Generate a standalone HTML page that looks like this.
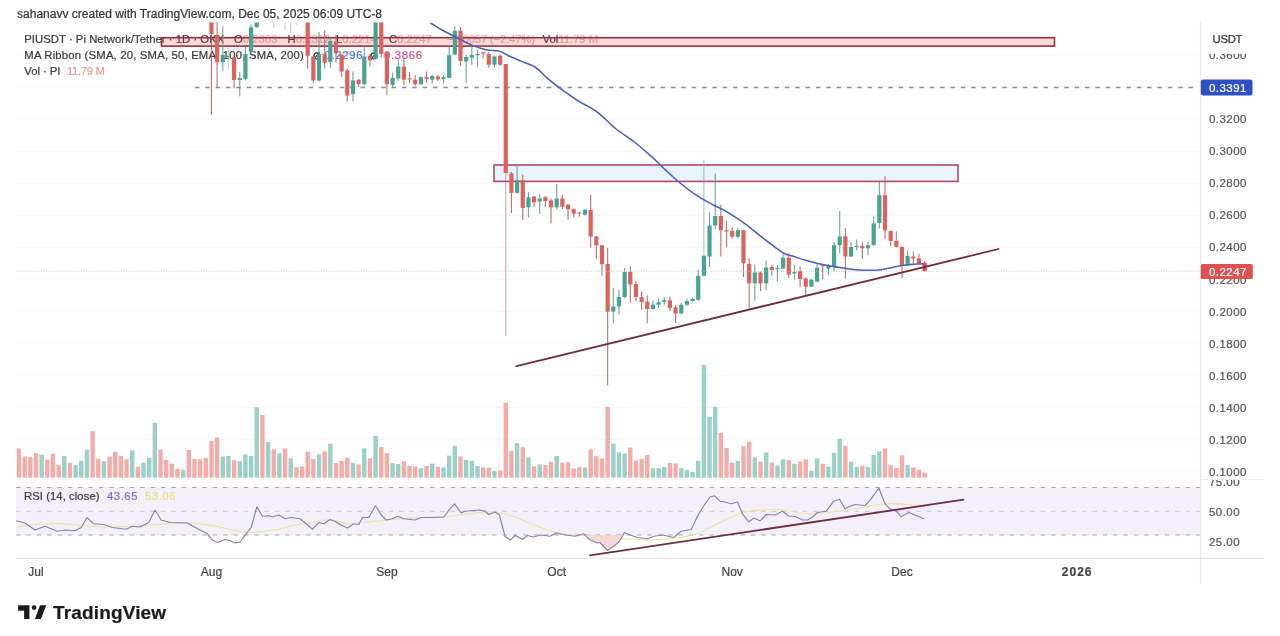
<!DOCTYPE html>
<html lang="en"><head><meta charset="utf-8"><title>PIUSDT chart</title>
<style>
html,body{margin:0;padding:0;background:#fff}
body{width:1280px;height:636px;overflow:hidden;position:relative}
svg{position:absolute;left:0;top:0;display:block}
text{font-family:"Liberation Sans",sans-serif;white-space:pre;stroke:currentColor;stroke-width:0.22px;paint-order:stroke}
svg{filter:blur(0.6px)}
</style></head><body>
<svg width="1280" height="636" viewBox="0 0 1280 636">
<defs><clipPath id="cp"><rect x="0" y="22.5" width="1200" height="460"/></clipPath>
<clipPath id="ax"><rect x="1200" y="53.8" width="80" height="427"/></clipPath>
<clipPath id="rx"><rect x="1200" y="479.9" width="80" height="78"/></clipPath></defs>
<rect x="0" y="0" width="1280" height="636" fill="#fff"/>

<g stroke="#f4f4f6" stroke-width="1">
<line x1="16" x2="1200" y1="471.8" y2="471.8"/>
<line x1="16" x2="1200" y1="439.7" y2="439.7"/>
<line x1="16" x2="1200" y1="407.6" y2="407.6"/>
<line x1="16" x2="1200" y1="375.6" y2="375.6"/>
<line x1="16" x2="1200" y1="343.5" y2="343.5"/>
<line x1="16" x2="1200" y1="311.4" y2="311.4"/>
<line x1="16" x2="1200" y1="279.3" y2="279.3"/>
<line x1="16" x2="1200" y1="247.2" y2="247.2"/>
<line x1="16" x2="1200" y1="215.2" y2="215.2"/>
<line x1="16" x2="1200" y1="183.1" y2="183.1"/>
<line x1="16" x2="1200" y1="151.0" y2="151.0"/>
<line x1="16" x2="1200" y1="118.9" y2="118.9"/>
<line x1="16" x2="1200" y1="86.8" y2="86.8"/>
<line x1="16" x2="1200" y1="54.8" y2="54.8"/>
</g>
<rect x="16" y="487.5" width="1184" height="47.5" fill="#f3f0fb"/>
<g font-size="11.3" fill="#3a3a3a" color="#3a3a3a">
<text x="17" y="17.5" font-size="12" textLength="365" fill="#333" color="#333">sahanavv created with TradingView.com, Dec 05, 2025 06:09 UTC-8</text>
<text x="24.3" y="43" textLength="200">PIUSDT · Pi Network/Tether · 1D · OKX</text>
<text x="234" y="43">O<tspan fill="#e0706c" color="#e0706c" opacity="0.6">0.2303</tspan></text>
<text x="287.5" y="43">H<tspan fill="#e0706c" color="#e0706c" opacity="0.6">0.2312</tspan></text>
<text x="336" y="43">L<tspan fill="#e0706c" color="#e0706c" opacity="0.6">0.2214</tspan></text>
<text x="389" y="43">C<tspan fill="#e0706c" color="#e0706c" opacity="0.6">0.2247</tspan></text>
<text x="447" y="43" fill="#e0706c" color="#e0706c" opacity="0.6" textLength="88">−0.0057 (−2.47%)</text>
<text x="542.5" y="43">Vol<tspan fill="#e0706c" color="#e0706c" opacity="0.6">11.79 M</tspan></text>
<text x="24.3" y="59.4" textLength="279.5">MA Ribbon (SMA, 20, SMA, 50, EMA, 100, SMA, 200)</text>
<text x="312.5" y="59.2" font-size="8.5" font-weight="bold">∅</text><text x="324.5" y="59.4" fill="#4a74dc" color="#4a74dc" textLength="38">0.2296</text>
<text x="369.5" y="59.2" font-size="8.5" font-weight="bold">∅</text><text x="384" y="59.4" fill="#d24f84" color="#d24f84" textLength="38">0.3866</text>
<text x="24.3" y="75" textLength="36">Vol · PI</text><text x="67" y="75" fill="#e89b9b" color="#e89b9b" textLength="38">11.79 M</text>
</g>
<g clip-path="url(#cp)">
<rect x="16.82" y="448.4" width="4.4" height="29.3" fill="#f3aca8"/>
<rect x="22.48" y="456.5" width="4.4" height="21.2" fill="#f3aca8"/>
<rect x="28.14" y="457.1" width="4.4" height="20.6" fill="#f3aca8"/>
<rect x="33.80" y="453.3" width="4.4" height="24.4" fill="#f3aca8"/>
<rect x="39.46" y="454.7" width="4.4" height="23.0" fill="#9ccfc7"/>
<rect x="45.12" y="459.7" width="4.4" height="18.0" fill="#f3aca8"/>
<rect x="50.78" y="453.7" width="4.4" height="24.0" fill="#f3aca8"/>
<rect x="56.44" y="464.9" width="4.4" height="12.8" fill="#f3aca8"/>
<rect x="62.10" y="455.9" width="4.4" height="21.8" fill="#9ccfc7"/>
<rect x="67.76" y="462.7" width="4.4" height="15.0" fill="#f3aca8"/>
<rect x="73.42" y="465.3" width="4.4" height="12.4" fill="#9ccfc7"/>
<rect x="79.08" y="460.8" width="4.4" height="16.9" fill="#9ccfc7"/>
<rect x="84.74" y="449.6" width="4.4" height="28.1" fill="#9ccfc7"/>
<rect x="90.40" y="431.2" width="4.4" height="46.5" fill="#f3aca8"/>
<rect x="96.06" y="458.9" width="4.4" height="18.8" fill="#f3aca8"/>
<rect x="101.72" y="461.2" width="4.4" height="16.5" fill="#9ccfc7"/>
<rect x="107.38" y="456.5" width="4.4" height="21.2" fill="#f3aca8"/>
<rect x="113.04" y="451.8" width="4.4" height="25.9" fill="#f3aca8"/>
<rect x="118.70" y="455.9" width="4.4" height="21.8" fill="#f3aca8"/>
<rect x="124.36" y="459.3" width="4.4" height="18.4" fill="#f3aca8"/>
<rect x="130.02" y="450.5" width="4.4" height="27.2" fill="#9ccfc7"/>
<rect x="135.68" y="466.8" width="4.4" height="10.9" fill="#f3aca8"/>
<rect x="141.34" y="462.7" width="4.4" height="15.0" fill="#9ccfc7"/>
<rect x="147.00" y="457.8" width="4.4" height="19.9" fill="#9ccfc7"/>
<rect x="152.66" y="422.7" width="4.4" height="55.0" fill="#9ccfc7"/>
<rect x="158.32" y="449.6" width="4.4" height="28.1" fill="#f3aca8"/>
<rect x="163.98" y="459.9" width="4.4" height="17.8" fill="#f3aca8"/>
<rect x="169.64" y="463.7" width="4.4" height="14.0" fill="#f3aca8"/>
<rect x="175.30" y="468.7" width="4.4" height="9.0" fill="#f3aca8"/>
<rect x="180.96" y="469.7" width="4.4" height="8.0" fill="#9ccfc7"/>
<rect x="186.62" y="449.9" width="4.4" height="27.8" fill="#f3aca8"/>
<rect x="192.28" y="458.9" width="4.4" height="18.8" fill="#f3aca8"/>
<rect x="197.94" y="459.3" width="4.4" height="18.4" fill="#f3aca8"/>
<rect x="203.60" y="457.8" width="4.4" height="19.9" fill="#f3aca8"/>
<rect x="209.26" y="440.9" width="4.4" height="36.8" fill="#f3aca8"/>
<rect x="214.92" y="437.4" width="4.4" height="40.3" fill="#f3aca8"/>
<rect x="220.58" y="456.5" width="4.4" height="21.2" fill="#9ccfc7"/>
<rect x="226.24" y="455.9" width="4.4" height="21.8" fill="#9ccfc7"/>
<rect x="231.90" y="460.3" width="4.4" height="17.4" fill="#f3aca8"/>
<rect x="237.56" y="461.2" width="4.4" height="16.5" fill="#9ccfc7"/>
<rect x="243.22" y="454.3" width="4.4" height="23.4" fill="#9ccfc7"/>
<rect x="248.88" y="455.9" width="4.4" height="21.8" fill="#9ccfc7"/>
<rect x="254.54" y="407.2" width="4.4" height="70.5" fill="#9ccfc7"/>
<rect x="260.20" y="414.9" width="4.4" height="62.8" fill="#f3aca8"/>
<rect x="265.86" y="442.1" width="4.4" height="35.6" fill="#9ccfc7"/>
<rect x="271.52" y="449.4" width="4.4" height="28.3" fill="#f3aca8"/>
<rect x="277.18" y="453.3" width="4.4" height="24.4" fill="#9ccfc7"/>
<rect x="282.84" y="448.4" width="4.4" height="29.3" fill="#f3aca8"/>
<rect x="288.50" y="458.4" width="4.4" height="19.3" fill="#9ccfc7"/>
<rect x="294.16" y="467.4" width="4.4" height="10.3" fill="#f3aca8"/>
<rect x="299.82" y="466.4" width="4.4" height="11.3" fill="#f3aca8"/>
<rect x="305.48" y="451.8" width="4.4" height="25.9" fill="#f3aca8"/>
<rect x="311.14" y="458.9" width="4.4" height="18.8" fill="#f3aca8"/>
<rect x="316.80" y="454.3" width="4.4" height="23.4" fill="#9ccfc7"/>
<rect x="322.46" y="451.3" width="4.4" height="26.4" fill="#f3aca8"/>
<rect x="328.12" y="443.8" width="4.4" height="33.9" fill="#9ccfc7"/>
<rect x="333.78" y="463.1" width="4.4" height="14.6" fill="#f3aca8"/>
<rect x="339.44" y="460.8" width="4.4" height="16.9" fill="#f3aca8"/>
<rect x="345.10" y="457.8" width="4.4" height="19.9" fill="#f3aca8"/>
<rect x="350.76" y="462.7" width="4.4" height="15.0" fill="#9ccfc7"/>
<rect x="356.42" y="464.6" width="4.4" height="13.1" fill="#f3aca8"/>
<rect x="362.08" y="448.4" width="4.4" height="29.3" fill="#9ccfc7"/>
<rect x="367.74" y="458.4" width="4.4" height="19.3" fill="#f3aca8"/>
<rect x="373.40" y="435.9" width="4.4" height="41.8" fill="#9ccfc7"/>
<rect x="379.06" y="447.1" width="4.4" height="30.6" fill="#f3aca8"/>
<rect x="384.72" y="453.1" width="4.4" height="24.6" fill="#f3aca8"/>
<rect x="390.38" y="463.1" width="4.4" height="14.6" fill="#9ccfc7"/>
<rect x="396.04" y="464.0" width="4.4" height="13.7" fill="#9ccfc7"/>
<rect x="401.70" y="461.2" width="4.4" height="16.5" fill="#f3aca8"/>
<rect x="407.36" y="465.9" width="4.4" height="11.8" fill="#f3aca8"/>
<rect x="413.02" y="466.4" width="4.4" height="11.3" fill="#f3aca8"/>
<rect x="418.68" y="468.3" width="4.4" height="9.4" fill="#9ccfc7"/>
<rect x="424.34" y="465.9" width="4.4" height="11.8" fill="#f3aca8"/>
<rect x="430.00" y="463.7" width="4.4" height="14.0" fill="#9ccfc7"/>
<rect x="435.66" y="466.8" width="4.4" height="10.9" fill="#f3aca8"/>
<rect x="441.32" y="467.4" width="4.4" height="10.3" fill="#9ccfc7"/>
<rect x="446.98" y="455.6" width="4.4" height="22.1" fill="#9ccfc7"/>
<rect x="452.64" y="445.8" width="4.4" height="31.9" fill="#9ccfc7"/>
<rect x="458.30" y="456.5" width="4.4" height="21.2" fill="#f3aca8"/>
<rect x="463.96" y="459.9" width="4.4" height="17.8" fill="#9ccfc7"/>
<rect x="469.62" y="460.7" width="4.4" height="17.0" fill="#9ccfc7"/>
<rect x="475.28" y="466.0" width="4.4" height="11.7" fill="#9ccfc7"/>
<rect x="480.94" y="467.4" width="4.4" height="10.3" fill="#f3aca8"/>
<rect x="486.60" y="467.8" width="4.4" height="9.9" fill="#f3aca8"/>
<rect x="492.26" y="471.1" width="4.4" height="6.6" fill="#9ccfc7"/>
<rect x="497.92" y="470.4" width="4.4" height="7.3" fill="#f3aca8"/>
<rect x="503.58" y="402.8" width="4.4" height="74.9" fill="#f3aca8"/>
<rect x="509.24" y="450.8" width="4.4" height="26.9" fill="#f3aca8"/>
<rect x="514.90" y="443.1" width="4.4" height="34.6" fill="#9ccfc7"/>
<rect x="520.56" y="446.9" width="4.4" height="30.8" fill="#f3aca8"/>
<rect x="526.22" y="457.4" width="4.4" height="20.3" fill="#9ccfc7"/>
<rect x="531.88" y="466.3" width="4.4" height="11.4" fill="#f3aca8"/>
<rect x="537.54" y="464.5" width="4.4" height="13.2" fill="#9ccfc7"/>
<rect x="543.20" y="464.9" width="4.4" height="12.8" fill="#f3aca8"/>
<rect x="548.86" y="461.8" width="4.4" height="15.9" fill="#f3aca8"/>
<rect x="554.52" y="456.1" width="4.4" height="21.6" fill="#9ccfc7"/>
<rect x="560.18" y="462.7" width="4.4" height="15.0" fill="#f3aca8"/>
<rect x="565.84" y="462.3" width="4.4" height="15.4" fill="#f3aca8"/>
<rect x="571.50" y="468.5" width="4.4" height="9.2" fill="#f3aca8"/>
<rect x="577.16" y="467.1" width="4.4" height="10.6" fill="#f3aca8"/>
<rect x="582.82" y="467.4" width="4.4" height="10.3" fill="#9ccfc7"/>
<rect x="588.48" y="449.5" width="4.4" height="28.2" fill="#f3aca8"/>
<rect x="594.14" y="456.1" width="4.4" height="21.6" fill="#f3aca8"/>
<rect x="599.80" y="458.5" width="4.4" height="19.2" fill="#f3aca8"/>
<rect x="605.46" y="406.8" width="4.4" height="70.9" fill="#f3aca8"/>
<rect x="611.12" y="443.6" width="4.4" height="34.1" fill="#9ccfc7"/>
<rect x="616.78" y="452.4" width="4.4" height="25.3" fill="#9ccfc7"/>
<rect x="622.44" y="453.5" width="4.4" height="24.2" fill="#9ccfc7"/>
<rect x="628.10" y="447.5" width="4.4" height="30.2" fill="#f3aca8"/>
<rect x="633.76" y="460.7" width="4.4" height="17.0" fill="#f3aca8"/>
<rect x="639.42" y="459.0" width="4.4" height="18.7" fill="#f3aca8"/>
<rect x="645.08" y="455.0" width="4.4" height="22.7" fill="#f3aca8"/>
<rect x="650.74" y="468.2" width="4.4" height="9.5" fill="#9ccfc7"/>
<rect x="656.40" y="468.2" width="4.4" height="9.5" fill="#9ccfc7"/>
<rect x="662.06" y="467.1" width="4.4" height="10.6" fill="#9ccfc7"/>
<rect x="667.72" y="462.9" width="4.4" height="14.8" fill="#f3aca8"/>
<rect x="673.38" y="463.4" width="4.4" height="14.3" fill="#f3aca8"/>
<rect x="679.04" y="468.2" width="4.4" height="9.5" fill="#9ccfc7"/>
<rect x="684.70" y="470.0" width="4.4" height="7.7" fill="#9ccfc7"/>
<rect x="690.36" y="472.0" width="4.4" height="5.7" fill="#9ccfc7"/>
<rect x="696.02" y="460.9" width="4.4" height="16.8" fill="#9ccfc7"/>
<rect x="701.68" y="365.0" width="4.4" height="112.7" fill="#9ccfc7"/>
<rect x="707.34" y="416.7" width="4.4" height="61.0" fill="#9ccfc7"/>
<rect x="713.00" y="406.6" width="4.4" height="71.1" fill="#9ccfc7"/>
<rect x="718.66" y="433.0" width="4.4" height="44.7" fill="#f3aca8"/>
<rect x="724.32" y="448.0" width="4.4" height="29.7" fill="#f3aca8"/>
<rect x="729.98" y="462.7" width="4.4" height="15.0" fill="#f3aca8"/>
<rect x="735.64" y="461.2" width="4.4" height="16.5" fill="#9ccfc7"/>
<rect x="741.30" y="446.2" width="4.4" height="31.5" fill="#f3aca8"/>
<rect x="746.96" y="441.8" width="4.4" height="35.9" fill="#f3aca8"/>
<rect x="752.62" y="457.4" width="4.4" height="20.3" fill="#9ccfc7"/>
<rect x="758.28" y="461.6" width="4.4" height="16.1" fill="#f3aca8"/>
<rect x="763.94" y="452.4" width="4.4" height="25.3" fill="#9ccfc7"/>
<rect x="769.60" y="462.3" width="4.4" height="15.4" fill="#f3aca8"/>
<rect x="775.26" y="465.6" width="4.4" height="12.1" fill="#9ccfc7"/>
<rect x="780.92" y="459.4" width="4.4" height="18.3" fill="#9ccfc7"/>
<rect x="786.58" y="460.1" width="4.4" height="17.6" fill="#f3aca8"/>
<rect x="792.24" y="463.8" width="4.4" height="13.9" fill="#9ccfc7"/>
<rect x="797.90" y="461.6" width="4.4" height="16.1" fill="#f3aca8"/>
<rect x="803.56" y="459.4" width="4.4" height="18.3" fill="#f3aca8"/>
<rect x="809.22" y="470.7" width="4.4" height="7.0" fill="#9ccfc7"/>
<rect x="814.88" y="458.5" width="4.4" height="19.2" fill="#9ccfc7"/>
<rect x="820.54" y="463.8" width="4.4" height="13.9" fill="#f3aca8"/>
<rect x="826.20" y="466.7" width="4.4" height="11.0" fill="#9ccfc7"/>
<rect x="831.86" y="452.8" width="4.4" height="24.9" fill="#9ccfc7"/>
<rect x="837.52" y="438.7" width="4.4" height="39.0" fill="#9ccfc7"/>
<rect x="843.18" y="445.8" width="4.4" height="31.9" fill="#f3aca8"/>
<rect x="848.84" y="461.6" width="4.4" height="16.1" fill="#9ccfc7"/>
<rect x="854.50" y="467.1" width="4.4" height="10.6" fill="#9ccfc7"/>
<rect x="860.16" y="465.6" width="4.4" height="12.1" fill="#f3aca8"/>
<rect x="865.82" y="467.1" width="4.4" height="10.6" fill="#9ccfc7"/>
<rect x="871.48" y="455.0" width="4.4" height="22.7" fill="#9ccfc7"/>
<rect x="877.14" y="451.3" width="4.4" height="26.4" fill="#9ccfc7"/>
<rect x="882.80" y="448.4" width="4.4" height="29.3" fill="#f3aca8"/>
<rect x="888.46" y="465.2" width="4.4" height="12.5" fill="#f3aca8"/>
<rect x="894.12" y="467.8" width="4.4" height="9.9" fill="#f3aca8"/>
<rect x="899.78" y="455.2" width="4.4" height="22.5" fill="#f3aca8"/>
<rect x="905.44" y="465.2" width="4.4" height="12.5" fill="#9ccfc7"/>
<rect x="911.10" y="467.4" width="4.4" height="10.3" fill="#f3aca8"/>
<rect x="916.76" y="469.6" width="4.4" height="8.1" fill="#f3aca8"/>
<rect x="922.42" y="472.6" width="4.4" height="5.1" fill="#f3aca8"/>
<line x1="194.9" x2="1197" y1="87.5" y2="87.5" stroke="#909090" stroke-width="1.5" stroke-dasharray="4.5 5.85"/>
<rect x="161.5" y="37.7" width="893" height="8.4" fill="#e23c4b" fill-opacity="0.19" stroke="#98303a" stroke-width="1.6"/>
<rect x="494" y="165" width="464" height="16.4" fill="#5ab4f0" fill-opacity="0.145" stroke="#b5466c" stroke-width="1.6"/>
<line x1="211.46" x2="211.46" y1="22" y2="115" stroke="#b8605c" stroke-width="1.1" stroke-opacity="0.9"/>
<rect x="209.36" y="22" width="4.2" height="12.0" fill="#dc625d"/>
<line x1="217.12" x2="217.12" y1="22" y2="87.7" stroke="#b8605c" stroke-width="1.1" stroke-opacity="0.9"/>
<rect x="215.02" y="34.8" width="4.2" height="27.4" fill="#dc625d"/>
<line x1="222.78" x2="222.78" y1="26.3" y2="70.6" stroke="#5a9c90" stroke-width="1.1" stroke-opacity="0.9"/>
<rect x="220.68" y="55" width="4.2" height="7.2" fill="#48a394"/>
<line x1="228.44" x2="228.44" y1="46" y2="68.8" stroke="#5a9c90" stroke-width="1.1" stroke-opacity="0.4"/>
<rect x="226.34" y="56" width="4.2" height="1.2" fill="#48a394"/>
<line x1="234.10" x2="234.10" y1="55" y2="88.3" stroke="#b8605c" stroke-width="1.1" stroke-opacity="0.9"/>
<rect x="232.00" y="57" width="4.2" height="23.0" fill="#dc625d"/>
<line x1="239.76" x2="239.76" y1="72" y2="96.5" stroke="#5a9c90" stroke-width="1.1" stroke-opacity="0.9"/>
<rect x="237.66" y="78" width="4.2" height="2.0" fill="#48a394"/>
<line x1="245.42" x2="245.42" y1="47" y2="80.5" stroke="#5a9c90" stroke-width="1.1" stroke-opacity="0.9"/>
<rect x="243.32" y="54" width="4.2" height="25.0" fill="#48a394"/>
<line x1="251.08" x2="251.08" y1="24.4" y2="53" stroke="#5a9c90" stroke-width="1.1" stroke-opacity="0.9"/>
<rect x="248.98" y="27.3" width="4.2" height="24.5" fill="#48a394"/>
<line x1="256.74" x2="256.74" y1="20" y2="28" stroke="#5a9c90" stroke-width="1.1" stroke-opacity="0.9"/>
<rect x="254.64" y="20" width="4.2" height="7.0" fill="#48a394"/>
<line x1="273.72" x2="273.72" y1="20" y2="28" stroke="#b8605c" stroke-width="1.1" stroke-opacity="0.4"/>
<rect x="271.62" y="20" width="4.2" height="1.0" fill="#dc625d"/>
<line x1="285.04" x2="285.04" y1="20" y2="30" stroke="#b8605c" stroke-width="1.1" stroke-opacity="0.35"/>
<rect x="282.94" y="20" width="4.2" height="1.0" fill="#dc625d"/>
<line x1="290.70" x2="290.70" y1="20" y2="33" stroke="#5a9c90" stroke-width="1.1" stroke-opacity="0.5"/>
<rect x="288.60" y="20" width="4.2" height="1.0" fill="#48a394"/>
<line x1="296.36" x2="296.36" y1="20" y2="25" stroke="#b8605c" stroke-width="1.1" stroke-opacity="0.35"/>
<rect x="294.26" y="20" width="4.2" height="1.0" fill="#dc625d"/>
<line x1="307.68" x2="307.68" y1="20" y2="69" stroke="#b8605c" stroke-width="1.1" stroke-opacity="0.9"/>
<rect x="305.58" y="20" width="4.2" height="35.8" fill="#dc625d"/>
<line x1="313.34" x2="313.34" y1="56" y2="83" stroke="#b8605c" stroke-width="1.1" stroke-opacity="0.9"/>
<rect x="311.24" y="56.5" width="4.2" height="23.9" fill="#dc625d"/>
<line x1="319.00" x2="319.00" y1="32" y2="81.6" stroke="#5a9c90" stroke-width="1.1" stroke-opacity="0.9"/>
<rect x="316.90" y="54" width="4.2" height="26.4" fill="#48a394"/>
<line x1="324.66" x2="324.66" y1="30.7" y2="68.4" stroke="#b8605c" stroke-width="1.1" stroke-opacity="0.9"/>
<rect x="322.56" y="54" width="4.2" height="8.8" fill="#dc625d"/>
<line x1="330.32" x2="330.32" y1="37.6" y2="67.8" stroke="#5a9c90" stroke-width="1.1" stroke-opacity="0.9"/>
<rect x="328.22" y="40.8" width="4.2" height="21.2" fill="#48a394"/>
<line x1="335.98" x2="335.98" y1="35" y2="62.8" stroke="#b8605c" stroke-width="1.1" stroke-opacity="0.9"/>
<rect x="333.88" y="41.4" width="4.2" height="11.9" fill="#dc625d"/>
<line x1="341.64" x2="341.64" y1="54" y2="77" stroke="#b8605c" stroke-width="1.1" stroke-opacity="0.9"/>
<rect x="339.54" y="54.6" width="4.2" height="17.0" fill="#dc625d"/>
<line x1="347.30" x2="347.30" y1="68.4" y2="101.5" stroke="#b8605c" stroke-width="1.1" stroke-opacity="0.9"/>
<rect x="345.20" y="70.3" width="4.2" height="25.2" fill="#dc625d"/>
<line x1="352.96" x2="352.96" y1="71.6" y2="101.5" stroke="#5a9c90" stroke-width="1.1" stroke-opacity="0.9"/>
<rect x="350.86" y="80.4" width="4.2" height="13.8" fill="#48a394"/>
<line x1="358.62" x2="358.62" y1="79" y2="87.3" stroke="#b8605c" stroke-width="1.1" stroke-opacity="0.9"/>
<rect x="356.52" y="79.7" width="4.2" height="4.5" fill="#dc625d"/>
<line x1="364.28" x2="364.28" y1="46.4" y2="85.4" stroke="#5a9c90" stroke-width="1.1" stroke-opacity="0.9"/>
<rect x="362.18" y="56.5" width="4.2" height="27.7" fill="#48a394"/>
<line x1="369.94" x2="369.94" y1="54" y2="66.5" stroke="#b8605c" stroke-width="1.1" stroke-opacity="0.9"/>
<rect x="367.84" y="55.8" width="4.2" height="4.5" fill="#dc625d"/>
<line x1="375.60" x2="375.60" y1="20" y2="59.5" stroke="#5a9c90" stroke-width="1.1" stroke-opacity="0.9"/>
<rect x="373.50" y="20" width="4.2" height="39.0" fill="#48a394"/>
<line x1="381.26" x2="381.26" y1="20" y2="57.7" stroke="#b8605c" stroke-width="1.1" stroke-opacity="0.9"/>
<rect x="379.16" y="20" width="4.2" height="34.0" fill="#dc625d"/>
<line x1="386.92" x2="386.92" y1="52" y2="94.8" stroke="#b8605c" stroke-width="1.1" stroke-opacity="0.9"/>
<rect x="384.82" y="52.7" width="4.2" height="31.5" fill="#dc625d"/>
<line x1="392.58" x2="392.58" y1="72.8" y2="87.9" stroke="#5a9c90" stroke-width="1.1" stroke-opacity="0.9"/>
<rect x="390.48" y="77.9" width="4.2" height="6.9" fill="#48a394"/>
<line x1="398.24" x2="398.24" y1="59.6" y2="81" stroke="#5a9c90" stroke-width="1.1" stroke-opacity="0.9"/>
<rect x="396.14" y="66.5" width="4.2" height="12.0" fill="#48a394"/>
<line x1="403.90" x2="403.90" y1="59" y2="85.4" stroke="#b8605c" stroke-width="1.1" stroke-opacity="0.9"/>
<rect x="401.80" y="66.5" width="4.2" height="13.2" fill="#dc625d"/>
<line x1="409.56" x2="409.56" y1="72" y2="83" stroke="#b8605c" stroke-width="1.1" stroke-opacity="0.9"/>
<rect x="407.46" y="78.3" width="4.2" height="1.0" fill="#dc625d"/>
<line x1="415.22" x2="415.22" y1="75" y2="85.4" stroke="#b8605c" stroke-width="1.1" stroke-opacity="0.9"/>
<rect x="413.12" y="79.7" width="4.2" height="4.5" fill="#dc625d"/>
<line x1="420.88" x2="420.88" y1="76.6" y2="84.8" stroke="#5a9c90" stroke-width="1.1" stroke-opacity="0.9"/>
<rect x="418.78" y="77.2" width="4.2" height="7.0" fill="#48a394"/>
<line x1="426.54" x2="426.54" y1="71.6" y2="83" stroke="#b8605c" stroke-width="1.1" stroke-opacity="0.9"/>
<rect x="424.44" y="77.2" width="4.2" height="1.9" fill="#dc625d"/>
<line x1="432.20" x2="432.20" y1="74.7" y2="83.5" stroke="#5a9c90" stroke-width="1.1" stroke-opacity="0.9"/>
<rect x="430.10" y="76" width="4.2" height="3.7" fill="#48a394"/>
<line x1="437.86" x2="437.86" y1="75" y2="81" stroke="#b8605c" stroke-width="1.1" stroke-opacity="0.9"/>
<rect x="435.76" y="76.4" width="4.2" height="3.0" fill="#dc625d"/>
<line x1="443.52" x2="443.52" y1="75" y2="83.5" stroke="#5a9c90" stroke-width="1.1" stroke-opacity="0.9"/>
<rect x="441.42" y="77.2" width="4.2" height="1.9" fill="#48a394"/>
<line x1="449.18" x2="449.18" y1="47" y2="78.5" stroke="#5a9c90" stroke-width="1.1" stroke-opacity="0.9"/>
<rect x="447.08" y="55.2" width="4.2" height="22.7" fill="#48a394"/>
<line x1="454.84" x2="454.84" y1="26.3" y2="55.2" stroke="#5a9c90" stroke-width="1.1" stroke-opacity="0.9"/>
<rect x="452.74" y="30.7" width="4.2" height="23.9" fill="#48a394"/>
<line x1="460.50" x2="460.50" y1="27" y2="66" stroke="#b8605c" stroke-width="1.1" stroke-opacity="0.9"/>
<rect x="458.40" y="30.7" width="4.2" height="30.2" fill="#dc625d"/>
<line x1="466.16" x2="466.16" y1="55" y2="83" stroke="#5a9c90" stroke-width="1.1" stroke-opacity="0.9"/>
<rect x="464.06" y="57" width="4.2" height="4.5" fill="#48a394"/>
<line x1="471.82" x2="471.82" y1="45" y2="64.7" stroke="#5a9c90" stroke-width="1.1" stroke-opacity="0.9"/>
<rect x="469.72" y="55" width="4.2" height="2.7" fill="#48a394"/>
<line x1="477.48" x2="477.48" y1="50" y2="67" stroke="#5a9c90" stroke-width="1.1" stroke-opacity="0.9"/>
<rect x="475.38" y="54" width="4.2" height="1.2" fill="#48a394"/>
<line x1="483.14" x2="483.14" y1="52" y2="58.4" stroke="#b8605c" stroke-width="1.1" stroke-opacity="0.9"/>
<rect x="481.04" y="52.3" width="4.2" height="1.2" fill="#dc625d"/>
<line x1="488.80" x2="488.80" y1="52" y2="67.8" stroke="#b8605c" stroke-width="1.1" stroke-opacity="0.9"/>
<rect x="486.70" y="54" width="4.2" height="10.7" fill="#dc625d"/>
<line x1="494.46" x2="494.46" y1="55.8" y2="67.2" stroke="#5a9c90" stroke-width="1.1" stroke-opacity="0.9"/>
<rect x="492.36" y="56.5" width="4.2" height="8.2" fill="#48a394"/>
<line x1="500.12" x2="500.12" y1="54.6" y2="66" stroke="#b8605c" stroke-width="1.1" stroke-opacity="0.9"/>
<rect x="498.02" y="55.8" width="4.2" height="8.9" fill="#dc625d"/>
<line x1="505.78" x2="505.78" y1="64" y2="336" stroke="#b8605c" stroke-width="1.1" stroke-opacity="0.55"/>
<rect x="503.68" y="64" width="4.2" height="109.0" fill="#dc625d"/>
<line x1="511.44" x2="511.44" y1="172" y2="213" stroke="#b8605c" stroke-width="1.1" stroke-opacity="0.9"/>
<rect x="509.34" y="173.3" width="4.2" height="19.5" fill="#dc625d"/>
<line x1="517.10" x2="517.10" y1="164.5" y2="193.5" stroke="#5a9c90" stroke-width="1.1" stroke-opacity="0.9"/>
<rect x="515.00" y="180.3" width="4.2" height="12.5" fill="#48a394"/>
<line x1="522.76" x2="522.76" y1="174.6" y2="220" stroke="#b8605c" stroke-width="1.1" stroke-opacity="0.9"/>
<rect x="520.66" y="180.3" width="4.2" height="27.7" fill="#dc625d"/>
<line x1="528.42" x2="528.42" y1="192.2" y2="217.5" stroke="#5a9c90" stroke-width="1.1" stroke-opacity="0.9"/>
<rect x="526.32" y="197.2" width="4.2" height="10.1" fill="#48a394"/>
<line x1="534.08" x2="534.08" y1="196" y2="207.3" stroke="#b8605c" stroke-width="1.1" stroke-opacity="0.9"/>
<rect x="531.98" y="196.6" width="4.2" height="5.7" fill="#dc625d"/>
<line x1="539.74" x2="539.74" y1="194" y2="213.7" stroke="#5a9c90" stroke-width="1.1" stroke-opacity="0.9"/>
<rect x="537.64" y="198.5" width="4.2" height="3.1" fill="#48a394"/>
<line x1="545.40" x2="545.40" y1="196" y2="207.3" stroke="#b8605c" stroke-width="1.1" stroke-opacity="0.9"/>
<rect x="543.30" y="197.2" width="4.2" height="3.8" fill="#dc625d"/>
<line x1="551.06" x2="551.06" y1="198.5" y2="223.3" stroke="#b8605c" stroke-width="1.1" stroke-opacity="0.9"/>
<rect x="548.96" y="200.4" width="4.2" height="6.9" fill="#dc625d"/>
<line x1="556.72" x2="556.72" y1="184" y2="209.2" stroke="#5a9c90" stroke-width="1.1" stroke-opacity="0.9"/>
<rect x="554.62" y="198.5" width="4.2" height="8.8" fill="#48a394"/>
<line x1="562.38" x2="562.38" y1="194.7" y2="209" stroke="#b8605c" stroke-width="1.1" stroke-opacity="0.9"/>
<rect x="560.28" y="198.5" width="4.2" height="8.2" fill="#dc625d"/>
<line x1="568.04" x2="568.04" y1="204" y2="219.5" stroke="#b8605c" stroke-width="1.1" stroke-opacity="0.9"/>
<rect x="565.94" y="204.8" width="4.2" height="4.4" fill="#dc625d"/>
<line x1="573.70" x2="573.70" y1="208.5" y2="217.4" stroke="#b8605c" stroke-width="1.1" stroke-opacity="0.9"/>
<rect x="571.60" y="209.2" width="4.2" height="4.4" fill="#dc625d"/>
<line x1="579.36" x2="579.36" y1="211.7" y2="216.7" stroke="#b8605c" stroke-width="1.1" stroke-opacity="0.9"/>
<rect x="577.26" y="212.5" width="4.2" height="1.0" fill="#dc625d"/>
<line x1="585.02" x2="585.02" y1="209.2" y2="215.5" stroke="#5a9c90" stroke-width="1.1" stroke-opacity="0.9"/>
<rect x="582.92" y="209.8" width="4.2" height="5.0" fill="#48a394"/>
<line x1="590.68" x2="590.68" y1="194.7" y2="247.8" stroke="#b8605c" stroke-width="1.1" stroke-opacity="0.9"/>
<rect x="588.58" y="210" width="4.2" height="26.5" fill="#dc625d"/>
<line x1="596.34" x2="596.34" y1="236" y2="259" stroke="#b8605c" stroke-width="1.1" stroke-opacity="0.9"/>
<rect x="594.24" y="236.5" width="4.2" height="8.8" fill="#dc625d"/>
<line x1="602.00" x2="602.00" y1="245" y2="275.5" stroke="#b8605c" stroke-width="1.1" stroke-opacity="0.9"/>
<rect x="599.90" y="245.3" width="4.2" height="18.9" fill="#dc625d"/>
<line x1="607.66" x2="607.66" y1="247.8" y2="385.4" stroke="#b8605c" stroke-width="1.1" stroke-opacity="0.9"/>
<rect x="605.56" y="264" width="4.2" height="47.6" fill="#dc625d"/>
<line x1="613.32" x2="613.32" y1="287.7" y2="323.5" stroke="#5a9c90" stroke-width="1.1" stroke-opacity="0.9"/>
<rect x="611.22" y="306.5" width="4.2" height="5.1" fill="#48a394"/>
<line x1="618.98" x2="618.98" y1="290" y2="315" stroke="#5a9c90" stroke-width="1.1" stroke-opacity="0.9"/>
<rect x="616.88" y="297" width="4.2" height="9.5" fill="#48a394"/>
<line x1="624.64" x2="624.64" y1="268" y2="297.7" stroke="#5a9c90" stroke-width="1.1" stroke-opacity="0.9"/>
<rect x="622.54" y="272" width="4.2" height="25.0" fill="#48a394"/>
<line x1="630.30" x2="630.30" y1="266.3" y2="302.8" stroke="#b8605c" stroke-width="1.1" stroke-opacity="0.9"/>
<rect x="628.20" y="272" width="4.2" height="12.5" fill="#dc625d"/>
<line x1="635.96" x2="635.96" y1="280.8" y2="301.5" stroke="#b8605c" stroke-width="1.1" stroke-opacity="0.9"/>
<rect x="633.86" y="284" width="4.2" height="13.0" fill="#dc625d"/>
<line x1="641.62" x2="641.62" y1="291.5" y2="309.7" stroke="#b8605c" stroke-width="1.1" stroke-opacity="0.9"/>
<rect x="639.52" y="297.2" width="4.2" height="5.0" fill="#dc625d"/>
<line x1="647.28" x2="647.28" y1="295.3" y2="323" stroke="#b8605c" stroke-width="1.1" stroke-opacity="0.9"/>
<rect x="645.18" y="301.6" width="4.2" height="7.4" fill="#dc625d"/>
<line x1="652.94" x2="652.94" y1="300.3" y2="309.7" stroke="#5a9c90" stroke-width="1.1" stroke-opacity="0.9"/>
<rect x="650.84" y="304.7" width="4.2" height="4.3" fill="#48a394"/>
<line x1="658.60" x2="658.60" y1="298.4" y2="307.9" stroke="#5a9c90" stroke-width="1.1" stroke-opacity="0.9"/>
<rect x="656.50" y="302.2" width="4.2" height="2.5" fill="#48a394"/>
<line x1="664.26" x2="664.26" y1="297.2" y2="304.7" stroke="#5a9c90" stroke-width="1.1" stroke-opacity="0.9"/>
<rect x="662.16" y="300" width="4.2" height="1.8" fill="#48a394"/>
<line x1="669.92" x2="669.92" y1="296.5" y2="311" stroke="#b8605c" stroke-width="1.1" stroke-opacity="0.9"/>
<rect x="667.82" y="300.3" width="4.2" height="7.6" fill="#dc625d"/>
<line x1="675.58" x2="675.58" y1="305.3" y2="323" stroke="#b8605c" stroke-width="1.1" stroke-opacity="0.9"/>
<rect x="673.48" y="307.2" width="4.2" height="6.3" fill="#dc625d"/>
<line x1="681.24" x2="681.24" y1="302.8" y2="314.2" stroke="#5a9c90" stroke-width="1.1" stroke-opacity="0.9"/>
<rect x="679.14" y="304.7" width="4.2" height="8.8" fill="#48a394"/>
<line x1="686.90" x2="686.90" y1="298.4" y2="306" stroke="#5a9c90" stroke-width="1.1" stroke-opacity="0.9"/>
<rect x="684.80" y="301" width="4.2" height="3.7" fill="#48a394"/>
<line x1="692.56" x2="692.56" y1="297.8" y2="301.8" stroke="#5a9c90" stroke-width="1.1" stroke-opacity="0.9"/>
<rect x="690.46" y="299" width="4.2" height="2.0" fill="#48a394"/>
<line x1="698.22" x2="698.22" y1="269.5" y2="301" stroke="#5a9c90" stroke-width="1.1" stroke-opacity="0.9"/>
<rect x="696.12" y="275.8" width="4.2" height="23.9" fill="#48a394"/>
<line x1="703.88" x2="703.88" y1="159.4" y2="276.4" stroke="#5a9c90" stroke-width="1.1" stroke-opacity="0.55"/>
<rect x="701.78" y="255.7" width="4.2" height="20.1" fill="#48a394"/>
<line x1="709.54" x2="709.54" y1="212.3" y2="267" stroke="#5a9c90" stroke-width="1.1" stroke-opacity="0.9"/>
<rect x="707.44" y="225.5" width="4.2" height="31.1" fill="#48a394"/>
<line x1="715.20" x2="715.20" y1="173.6" y2="229.2" stroke="#5a9c90" stroke-width="1.1" stroke-opacity="0.9"/>
<rect x="713.10" y="216" width="4.2" height="9.5" fill="#48a394"/>
<line x1="720.86" x2="720.86" y1="204.7" y2="256.6" stroke="#b8605c" stroke-width="1.1" stroke-opacity="0.9"/>
<rect x="718.76" y="216" width="4.2" height="14.2" fill="#dc625d"/>
<line x1="726.52" x2="726.52" y1="220.8" y2="247.2" stroke="#b8605c" stroke-width="1.1" stroke-opacity="0.9"/>
<rect x="724.42" y="230.2" width="4.2" height="1.3" fill="#dc625d"/>
<line x1="732.18" x2="732.18" y1="227.4" y2="238.7" stroke="#b8605c" stroke-width="1.1" stroke-opacity="0.9"/>
<rect x="730.08" y="231" width="4.2" height="5.8" fill="#dc625d"/>
<line x1="737.84" x2="737.84" y1="227.4" y2="238.7" stroke="#5a9c90" stroke-width="1.1" stroke-opacity="0.9"/>
<rect x="735.74" y="230.2" width="4.2" height="6.6" fill="#48a394"/>
<line x1="743.50" x2="743.50" y1="230" y2="277" stroke="#b8605c" stroke-width="1.1" stroke-opacity="0.9"/>
<rect x="741.40" y="230.2" width="4.2" height="33.0" fill="#dc625d"/>
<line x1="749.16" x2="749.16" y1="258.2" y2="308.5" stroke="#b8605c" stroke-width="1.1" stroke-opacity="0.9"/>
<rect x="747.06" y="263.8" width="4.2" height="19.5" fill="#dc625d"/>
<line x1="754.82" x2="754.82" y1="264.5" y2="301" stroke="#5a9c90" stroke-width="1.1" stroke-opacity="0.9"/>
<rect x="752.72" y="272.6" width="4.2" height="10.7" fill="#48a394"/>
<line x1="760.48" x2="760.48" y1="271.4" y2="290.9" stroke="#b8605c" stroke-width="1.1" stroke-opacity="0.9"/>
<rect x="758.38" y="272.6" width="4.2" height="10.7" fill="#dc625d"/>
<line x1="766.14" x2="766.14" y1="260.7" y2="290.3" stroke="#5a9c90" stroke-width="1.1" stroke-opacity="0.9"/>
<rect x="764.04" y="267.6" width="4.2" height="15.7" fill="#48a394"/>
<line x1="771.80" x2="771.80" y1="265" y2="275.8" stroke="#b8605c" stroke-width="1.1" stroke-opacity="0.9"/>
<rect x="769.70" y="267" width="4.2" height="3.0" fill="#dc625d"/>
<line x1="777.46" x2="777.46" y1="265" y2="281.4" stroke="#5a9c90" stroke-width="1.1" stroke-opacity="0.9"/>
<rect x="775.36" y="268" width="4.2" height="1.2" fill="#48a394"/>
<line x1="783.12" x2="783.12" y1="252.8" y2="269" stroke="#5a9c90" stroke-width="1.1" stroke-opacity="0.9"/>
<rect x="781.02" y="257.7" width="4.2" height="10.7" fill="#48a394"/>
<line x1="788.78" x2="788.78" y1="253.3" y2="277.9" stroke="#b8605c" stroke-width="1.1" stroke-opacity="0.9"/>
<rect x="786.68" y="257.7" width="4.2" height="17.0" fill="#dc625d"/>
<line x1="794.44" x2="794.44" y1="264.7" y2="279.7" stroke="#5a9c90" stroke-width="1.1" stroke-opacity="0.9"/>
<rect x="792.34" y="272.2" width="4.2" height="1.3" fill="#48a394"/>
<line x1="800.10" x2="800.10" y1="266.5" y2="287.3" stroke="#b8605c" stroke-width="1.1" stroke-opacity="0.9"/>
<rect x="798.00" y="271" width="4.2" height="8.0" fill="#dc625d"/>
<line x1="805.76" x2="805.76" y1="277.2" y2="295.5" stroke="#b8605c" stroke-width="1.1" stroke-opacity="0.9"/>
<rect x="803.66" y="278.5" width="4.2" height="8.2" fill="#dc625d"/>
<line x1="811.42" x2="811.42" y1="279" y2="287.3" stroke="#5a9c90" stroke-width="1.1" stroke-opacity="0.9"/>
<rect x="809.32" y="279.7" width="4.2" height="7.0" fill="#48a394"/>
<line x1="817.08" x2="817.08" y1="264" y2="282.3" stroke="#5a9c90" stroke-width="1.1" stroke-opacity="0.9"/>
<rect x="814.98" y="267.8" width="4.2" height="13.8" fill="#48a394"/>
<line x1="822.74" x2="822.74" y1="264.7" y2="279" stroke="#b8605c" stroke-width="1.1" stroke-opacity="0.9"/>
<rect x="820.64" y="265.2" width="4.2" height="1.0" fill="#dc625d"/>
<line x1="828.40" x2="828.40" y1="264" y2="274.7" stroke="#5a9c90" stroke-width="1.1" stroke-opacity="0.9"/>
<rect x="826.30" y="265.3" width="4.2" height="3.1" fill="#48a394"/>
<line x1="834.06" x2="834.06" y1="242" y2="271.6" stroke="#5a9c90" stroke-width="1.1" stroke-opacity="0.9"/>
<rect x="831.96" y="245.2" width="4.2" height="21.3" fill="#48a394"/>
<line x1="839.72" x2="839.72" y1="211" y2="253.3" stroke="#5a9c90" stroke-width="1.1" stroke-opacity="0.9"/>
<rect x="837.62" y="236.5" width="4.2" height="8.7" fill="#48a394"/>
<line x1="845.38" x2="845.38" y1="228" y2="278.5" stroke="#b8605c" stroke-width="1.1" stroke-opacity="0.9"/>
<rect x="843.28" y="236.4" width="4.2" height="20.1" fill="#dc625d"/>
<line x1="851.04" x2="851.04" y1="242" y2="257" stroke="#5a9c90" stroke-width="1.1" stroke-opacity="0.9"/>
<rect x="848.94" y="247" width="4.2" height="9.5" fill="#48a394"/>
<line x1="856.70" x2="856.70" y1="239.5" y2="250.2" stroke="#5a9c90" stroke-width="1.1" stroke-opacity="0.9"/>
<rect x="854.60" y="245.8" width="4.2" height="1.2" fill="#48a394"/>
<line x1="862.36" x2="862.36" y1="242.6" y2="259" stroke="#b8605c" stroke-width="1.1" stroke-opacity="0.9"/>
<rect x="860.26" y="245.8" width="4.2" height="2.5" fill="#dc625d"/>
<line x1="868.02" x2="868.02" y1="242" y2="255.2" stroke="#5a9c90" stroke-width="1.1" stroke-opacity="0.9"/>
<rect x="865.92" y="245.2" width="4.2" height="3.1" fill="#48a394"/>
<line x1="873.68" x2="873.68" y1="216.5" y2="245.8" stroke="#5a9c90" stroke-width="1.1" stroke-opacity="0.9"/>
<rect x="871.58" y="223.4" width="4.2" height="21.6" fill="#48a394"/>
<line x1="879.34" x2="879.34" y1="182" y2="228.5" stroke="#5a9c90" stroke-width="1.1" stroke-opacity="0.9"/>
<rect x="877.24" y="195.2" width="4.2" height="27.8" fill="#48a394"/>
<line x1="885.00" x2="885.00" y1="176.3" y2="239.2" stroke="#b8605c" stroke-width="1.1" stroke-opacity="0.9"/>
<rect x="882.90" y="195.2" width="4.2" height="35.2" fill="#dc625d"/>
<line x1="890.66" x2="890.66" y1="230.4" y2="245.8" stroke="#b8605c" stroke-width="1.1" stroke-opacity="0.9"/>
<rect x="888.56" y="231" width="4.2" height="10.0" fill="#dc625d"/>
<line x1="896.32" x2="896.32" y1="231.6" y2="247.6" stroke="#b8605c" stroke-width="1.1" stroke-opacity="0.9"/>
<rect x="894.22" y="241" width="4.2" height="5.8" fill="#dc625d"/>
<line x1="901.98" x2="901.98" y1="246.5" y2="278.5" stroke="#b8605c" stroke-width="1.1" stroke-opacity="0.9"/>
<rect x="899.88" y="247" width="4.2" height="18.9" fill="#dc625d"/>
<line x1="907.64" x2="907.64" y1="250.2" y2="265.9" stroke="#5a9c90" stroke-width="1.1" stroke-opacity="0.9"/>
<rect x="905.54" y="255.8" width="4.2" height="9.5" fill="#48a394"/>
<line x1="913.30" x2="913.30" y1="251.4" y2="263.4" stroke="#b8605c" stroke-width="1.1" stroke-opacity="0.9"/>
<rect x="911.20" y="256.5" width="4.2" height="1.9" fill="#dc625d"/>
<line x1="918.96" x2="918.96" y1="254" y2="264" stroke="#b8605c" stroke-width="1.1" stroke-opacity="0.9"/>
<rect x="916.86" y="258.4" width="4.2" height="5.0" fill="#dc625d"/>
<line x1="924.62" x2="924.62" y1="260.9" y2="271.6" stroke="#d9505a" stroke-width="1.1" stroke-opacity="0.9"/>
<rect x="922.52" y="262.8" width="4.2" height="8.2" fill="#ea4a52"/>
<path d="M430.5,23.0 C432.6,24.2 438.6,28.1 443.0,30.5 C447.4,33.0 452.1,35.2 457.0,37.7 C461.9,40.2 467.7,43.4 472.5,45.4 C477.3,47.4 481.5,48.8 486.0,49.8 C490.5,50.8 495.8,50.3 499.5,51.3 C503.2,52.2 504.5,53.9 508.0,55.5 C511.5,57.1 516.1,59.0 520.6,60.9 C525.1,62.8 530.8,64.3 535.0,67.0 C539.2,69.7 542.0,73.6 546.0,77.0 C550.0,80.4 553.6,83.5 558.9,87.4 C564.2,91.3 571.4,96.5 577.7,100.6 C584.1,104.7 590.7,107.1 597.0,111.8 C603.3,116.5 609.3,123.5 615.5,128.5 C621.7,133.5 628.0,137.1 634.3,142.0 C640.6,146.9 648.2,153.7 653.2,158.1 C658.2,162.5 659.7,164.5 664.0,168.5 C668.3,172.5 673.3,177.4 678.9,182.0 C684.5,186.6 691.7,192.2 697.7,196.2 C703.7,200.1 710.0,203.2 714.7,205.7 C719.4,208.2 721.0,208.3 726.0,211.3 C731.0,214.3 738.6,219.0 744.9,223.6 C751.2,228.2 757.5,233.9 763.8,238.7 C770.1,243.5 777.8,249.7 782.6,252.6 C787.4,255.5 788.8,254.7 792.6,256.0 C796.4,257.3 801.0,259.1 805.2,260.3 C809.4,261.5 813.5,262.5 817.7,263.4 C821.9,264.3 826.1,265.1 830.3,265.9 C834.5,266.7 838.7,267.4 842.9,268.0 C847.1,268.6 851.3,269.3 855.5,269.7 C859.7,270.1 863.8,270.3 868.0,270.3 C872.2,270.3 876.4,270.2 880.6,269.7 C884.8,269.2 889.0,268.0 893.2,267.2 C897.4,266.4 901.6,265.5 905.8,265.0 C910.0,264.5 915.3,264.2 918.4,264.0 C921.5,263.8 923.6,263.8 924.6,263.8" fill="none" stroke="#4a5dc0" stroke-width="1.55" stroke-linejoin="round"/>
<line x1="16" x2="1200" y1="271.3" y2="271.3" stroke="#c9c0c2" stroke-width="0.9" stroke-dasharray="1 1.5"/>
<line x1="516.5" y1="366.2" x2="998.5" y2="249" stroke="#6e2c40" stroke-width="1.8" stroke-linecap="round"/>
</g>
<g>
<line x1="16" x2="1200" y1="487.5" y2="487.5" stroke="#a4a4ae" stroke-width="1.2" stroke-dasharray="4.5 5.85"/>
<line x1="16" x2="1200" y1="511.3" y2="511.3" stroke="#c9c6d6" stroke-width="1" stroke-dasharray="4.5 5.85"/>
<line x1="16" x2="1200" y1="535" y2="535" stroke="#a4a4ae" stroke-width="1.2" stroke-dasharray="4.5 5.85"/>
<path d="M588,535 L590.0,540.0 L597.5,543.0 L600.0,542.5 L607.5,550.5 L613.8,546.2 L619.5,541.2 L622,535 Z" fill="#f6c9d3" fill-opacity="0.8"/>
<path d="M16.2,527.0 C19.8,526.6 29.8,525.0 37.5,524.5 C45.2,524.0 54.2,523.5 62.5,523.8 C70.8,524.0 79.2,525.7 87.5,526.2 C95.8,526.8 104.2,527.0 112.5,527.0 C120.8,527.0 129.2,526.8 137.5,526.2 C145.8,525.7 154.2,524.3 162.5,523.8 C170.8,523.2 179.2,522.7 187.5,523.0 C195.8,523.3 204.2,524.1 212.5,525.5 C220.8,526.9 231.2,530.1 237.5,531.2 C243.8,532.4 243.8,532.7 250.0,532.5 C256.2,532.3 267.5,531.2 275.0,530.0 C282.5,528.8 288.8,526.2 295.0,525.0 C301.2,523.8 307.5,523.3 312.5,522.5 C317.5,521.7 320.8,520.2 325.0,520.0 C329.2,519.8 333.3,520.6 337.5,521.2 C341.7,521.9 345.8,523.5 350.0,523.8 C354.2,524.0 358.3,522.9 362.5,522.5 C366.7,522.1 368.8,521.9 375.0,521.2 C381.2,520.6 391.7,519.4 400.0,518.8 C408.3,518.1 416.7,517.9 425.0,517.5 C433.3,517.1 441.7,517.0 450.0,516.2 C458.3,515.5 467.5,513.7 475.0,513.0 C482.5,512.3 488.8,511.5 495.0,512.0 C501.2,512.5 507.5,514.7 512.5,516.2 C517.5,517.8 520.8,519.6 525.0,521.2 C529.2,522.9 533.3,524.7 537.5,526.2 C541.7,527.8 545.8,529.5 550.0,530.8 C554.2,532.0 558.3,533.0 562.5,533.8 C566.7,534.5 570.8,535.2 575.0,535.5 C579.2,535.8 583.5,535.3 587.5,535.5 C591.5,535.7 596.7,536.4 598.8,536.8 C600.8,537.1 597.7,537.3 600.0,537.5 C602.3,537.7 608.3,537.8 612.5,538.0 C616.7,538.2 618.8,538.4 625.0,538.8 C631.2,539.1 641.7,540.1 650.0,540.0 C658.3,539.9 668.8,538.6 675.0,538.0 C681.2,537.4 683.3,537.2 687.5,536.2 C691.7,535.3 695.8,534.2 700.0,532.5 C704.2,530.8 708.3,528.3 712.5,526.2 C716.7,524.2 720.8,522.0 725.0,520.0 C729.2,518.0 733.3,516.0 737.5,514.5 C741.7,513.0 745.8,512.0 750.0,511.2 C754.2,510.5 758.3,510.3 762.5,510.0 C766.7,509.7 770.8,509.4 775.0,509.5 C779.2,509.6 783.3,509.9 787.5,510.5 C791.7,511.1 795.8,512.5 800.0,513.0 C804.2,513.5 808.3,513.8 812.5,513.8 C816.7,513.8 820.8,513.4 825.0,513.0 C829.2,512.6 833.3,511.8 837.5,511.2 C841.7,510.7 845.8,510.1 850.0,509.5 C854.2,508.9 858.3,508.2 862.5,507.5 C866.7,506.8 870.8,505.6 875.0,505.0 C879.2,504.4 883.3,504.0 887.5,503.8 C891.7,503.5 895.8,503.5 900.0,503.8 C904.2,504.0 909.2,504.6 912.5,505.0 C915.8,505.4 918.1,506.0 920.0,506.2 C921.9,506.5 923.3,506.7 924.0,506.8" fill="none" stroke="#f0e2a0" stroke-width="1.2" stroke-linejoin="round"/>
<path d="M16.2,520.8 L25.0,523.0 L35.0,530.0 L45.0,526.2 L57.5,531.2 L65.0,530.0 L75.0,530.8 L81.2,527.5 L87.0,517.5 L93.8,523.8 L103.8,524.5 L112.5,527.5 L126.2,529.2 L132.5,526.2 L140.0,527.0 L148.8,522.5 L155.0,510.0 L161.2,520.0 L170.0,522.5 L187.5,523.0 L200.0,530.0 L207.5,533.8 L212.5,540.0 L217.5,542.5 L225.0,539.5 L230.0,540.5 L235.0,543.0 L240.0,542.0 L246.2,533.8 L251.2,527.5 L256.8,506.8 L262.5,516.2 L268.8,515.8 L272.5,517.0 L278.8,515.0 L285.0,518.8 L291.2,517.5 L300.0,518.8 L306.2,523.8 L312.5,529.2 L318.8,522.5 L323.8,523.8 L330.0,519.5 L335.0,521.2 L341.2,525.0 L347.5,528.0 L353.8,523.8 L358.8,524.5 L362.5,517.5 L368.8,517.5 L375.5,505.8 L381.2,515.0 L386.2,520.0 L392.5,518.8 L398.0,516.2 L403.8,518.8 L415.0,520.0 L421.2,517.5 L432.5,517.5 L443.8,517.0 L450.0,508.8 L454.5,503.8 L461.2,513.0 L465.0,511.2 L472.5,510.5 L480.0,510.0 L485.0,511.2 L488.8,514.5 L495.0,512.0 L499.5,515.0 L502.0,525.0 L505.0,536.2 L510.0,540.0 L515.5,535.5 L522.5,539.5 L527.5,535.5 L533.8,537.0 L540.0,535.0 L550.0,536.2 L556.2,533.0 L562.5,534.5 L575.0,536.2 L583.8,533.8 L590.0,540.0 L597.5,543.0 L600.0,542.5 L607.5,550.5 L613.8,546.2 L619.5,541.2 L624.5,532.5 L630.0,535.0 L637.5,537.5 L647.5,538.8 L653.8,536.2 L662.5,535.0 L673.8,537.5 L681.2,531.2 L691.2,529.5 L697.5,516.2 L705.0,503.8 L710.0,497.0 L714.5,495.8 L720.0,501.2 L725.0,502.0 L731.2,503.8 L737.5,502.0 L742.5,513.8 L748.8,521.8 L753.8,518.0 L760.0,520.8 L766.2,514.5 L775.0,515.0 L782.5,511.2 L788.8,516.2 L795.0,516.2 L802.5,520.0 L807.5,520.0 L812.5,517.0 L817.5,512.5 L826.2,511.2 L833.8,501.2 L839.5,499.2 L845.0,508.8 L850.0,506.2 L855.0,504.5 L865.0,505.5 L871.2,498.8 L878.8,488.0 L885.0,503.8 L890.0,508.8 L896.2,511.2 L901.2,516.8 L908.8,512.5 L915.0,515.0 L920.0,517.0 L923.8,519.0" fill="none" stroke="#857fb8" stroke-width="1.15" stroke-linejoin="round"/>
<line x1="590" y1="555.3" x2="963.5" y2="499.7" stroke="#6e2c40" stroke-width="1.8" stroke-linecap="round"/>
<text x="24" y="500" font-size="11.3" fill="#3a3a3a" color="#3a3a3a" textLength="75.5">RSI (14, close)</text>
<text x="107" y="500" font-size="11.3" fill="#7f71c6" color="#7f71c6" textLength="30.5">43.65</text>
<text x="145" y="500" font-size="11.3" fill="#f1dc7c" color="#f1dc7c" textLength="30.5">53.06</text>
</g>
<line x1="1200.5" x2="1200.5" y1="22" y2="584" stroke="#e9e9ee" stroke-width="1.2"/>
<line x1="16" x2="1264" y1="558.4" y2="558.4" stroke="#e6e6ea" stroke-width="1.2"/>
<line x1="1200" x2="1264" y1="479.5" y2="479.5" stroke="#ececf0" stroke-width="1"/>
<g font-size="11.5" fill="#555" color="#555" letter-spacing="0.45">
<g clip-path="url(#ax)">
<text x="1209" y="476.0">0.1000</text>
<text x="1209" y="443.9">0.1200</text>
<text x="1209" y="411.8">0.1400</text>
<text x="1209" y="379.8">0.1600</text>
<text x="1209" y="347.7">0.1800</text>
<text x="1209" y="315.6">0.2000</text>
<text x="1209" y="283.5">0.2200</text>
<text x="1209" y="251.4">0.2400</text>
<text x="1209" y="219.4">0.2600</text>
<text x="1209" y="187.3">0.2800</text>
<text x="1209" y="155.2">0.3000</text>
<text x="1209" y="123.1">0.3200</text>
<text x="1209" y="59.0">0.3600</text>
</g>
<g clip-path="url(#rx)"><text x="1209" y="485.7">75.00</text><text x="1209" y="515.6">50.00</text><text x="1209" y="546">25.00</text></g>
<rect x="1200.8" y="79.4" width="51.7" height="16.1" rx="2" fill="#2f4fc6"/><text x="1209" y="91.7" fill="#fff" color="#fff">0.3391</text>
<rect x="1200.8" y="264" width="52" height="15" rx="1.5" fill="#e0504e"/><text x="1209" y="275.8" fill="#fff" color="#fff">0.2247</text>
</g>
<text x="1212.5" y="43" font-size="11.3" fill="#333" color="#333" textLength="30">USDT</text>
<g font-size="12" fill="#444" color="#444" text-anchor="middle">
<text x="36.0" y="576.3">Jul</text>
<text x="211.5" y="576.3">Aug</text>
<text x="386.9" y="576.3">Sep</text>
<text x="556.7" y="576.3">Oct</text>
<text x="732.2" y="576.3">Nov</text>
<text x="902.0" y="576.3">Dec</text>
<text x="1076.7" y="576.3" font-weight="bold" textLength="29.7">2026</text>
</g>
<g fill="#1b1b1b" color="#1b1b1b"><path d="M18.1,605.2 H29.4 V619.1 H24.1 V610.7 H18.1 Z"/><circle cx="34.1" cy="607.6" r="2.3"/><path d="M40,605.2 H46.3 L40.9,619.1 H35 Z"/>
<text x="53.1" y="619.1" font-size="19" font-weight="bold" textLength="113">TradingView</text></g>
</svg></body></html>
